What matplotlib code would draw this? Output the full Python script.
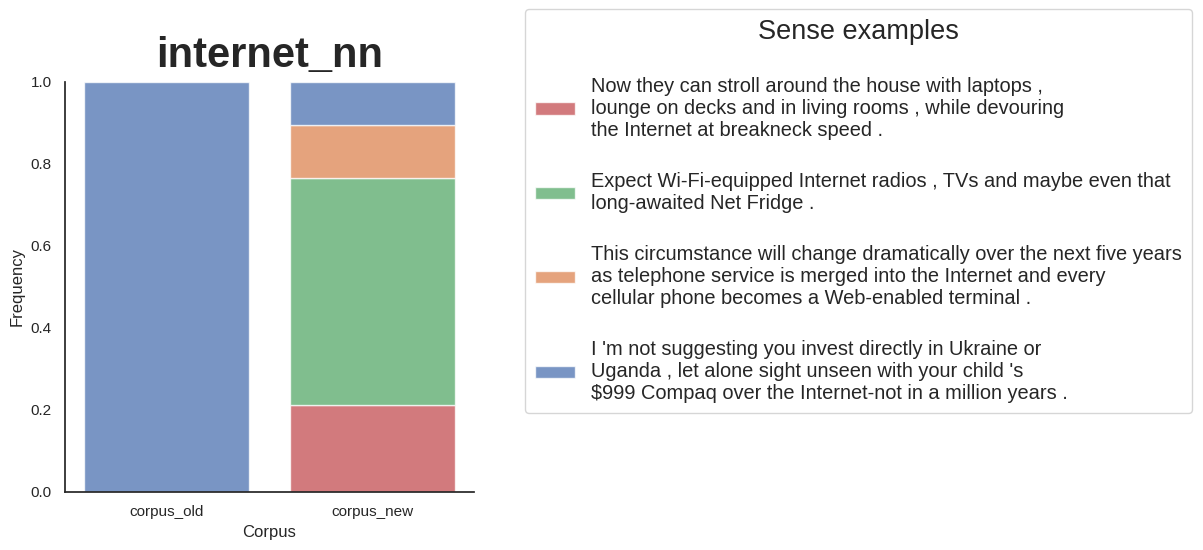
import matplotlib
matplotlib.use("Agg")

import matplotlib.pyplot as plt
import numpy as np
import seaborn as sns

sns.set_theme(style="white")
plt.rcParams["font.family"] = ["Liberation Sans", "DejaVu Sans"]

# data
corpora = ["corpus_old", "corpus_new"]
senses = [
    "Now they can stroll around the house with laptops ,\n"
    "lounge on decks and in living rooms , while devouring\n"
    "the Internet at breakneck speed .",
    "Expect Wi-Fi-equipped Internet radios , TVs and maybe even that\n"
    "long-awaited Net Fridge .",
    "This circumstance will change dramatically over the next five years\n"
    "as telephone service is merged into the Internet and every\n"
    "cellular phone becomes a Web-enabled terminal .",
    "I 'm not suggesting you invest directly in Ukraine or\n"
    "Uganda , let alone sight unseen with your child 's\n"
    "$999 Compaq over the Internet-not in a million years .",
]
# frequency per sense and corpus, stacked bottom -> top
freq_old = [0.0, 0.0, 0.0, 1.0]
freq_new = [0.213, 0.553, 0.128, 0.106]

colors = sns.color_palette("deep")
sense_colors = [colors[3], colors[2], colors[1], colors[0]]

fig = plt.figure(figsize=(12.03, 5.5), dpi=100)
ax = fig.add_axes([0.054, 0.1055, 0.34, 0.7455])

x = np.arange(len(corpora))
bottom = np.zeros(len(corpora))
handles = []
for k in range(len(senses)):
    vals = np.array([freq_old[k], freq_new[k]])
    b = ax.bar(x, vals, width=0.8, bottom=bottom, color=sense_colors[k],
               alpha=0.75, edgecolor="white", linewidth=1, label=senses[k])
    handles.append(b)
    bottom += vals

ax.set_xticks(x)
ax.set_xticklabels(corpora, fontsize=11)
ax.tick_params(axis="y", labelsize=11)
ax.set_xlim(-0.49, 1.49)
ax.set_ylim(0, 1.0)
ax.set_xlabel("Corpus", fontsize=12)
ax.set_ylabel("Frequency", fontsize=12)
ax.set_title("internet_nn", fontsize=30, fontweight="bold", pad=11)
sns.despine(ax=ax)

leg = fig.legend(handles=handles, labels=senses, loc="upper left",
                 bbox_to_anchor=(0.428, 1.002), fontsize=14.4,
                 title="Sense examples", title_fontsize=19.5,
                 labelspacing=1.6, handleheight=0.6, borderpad=0.5,
                 frameon=True)
leg.get_frame().set_edgecolor("0.8")

fig.savefig("out.png", dpi=100)
